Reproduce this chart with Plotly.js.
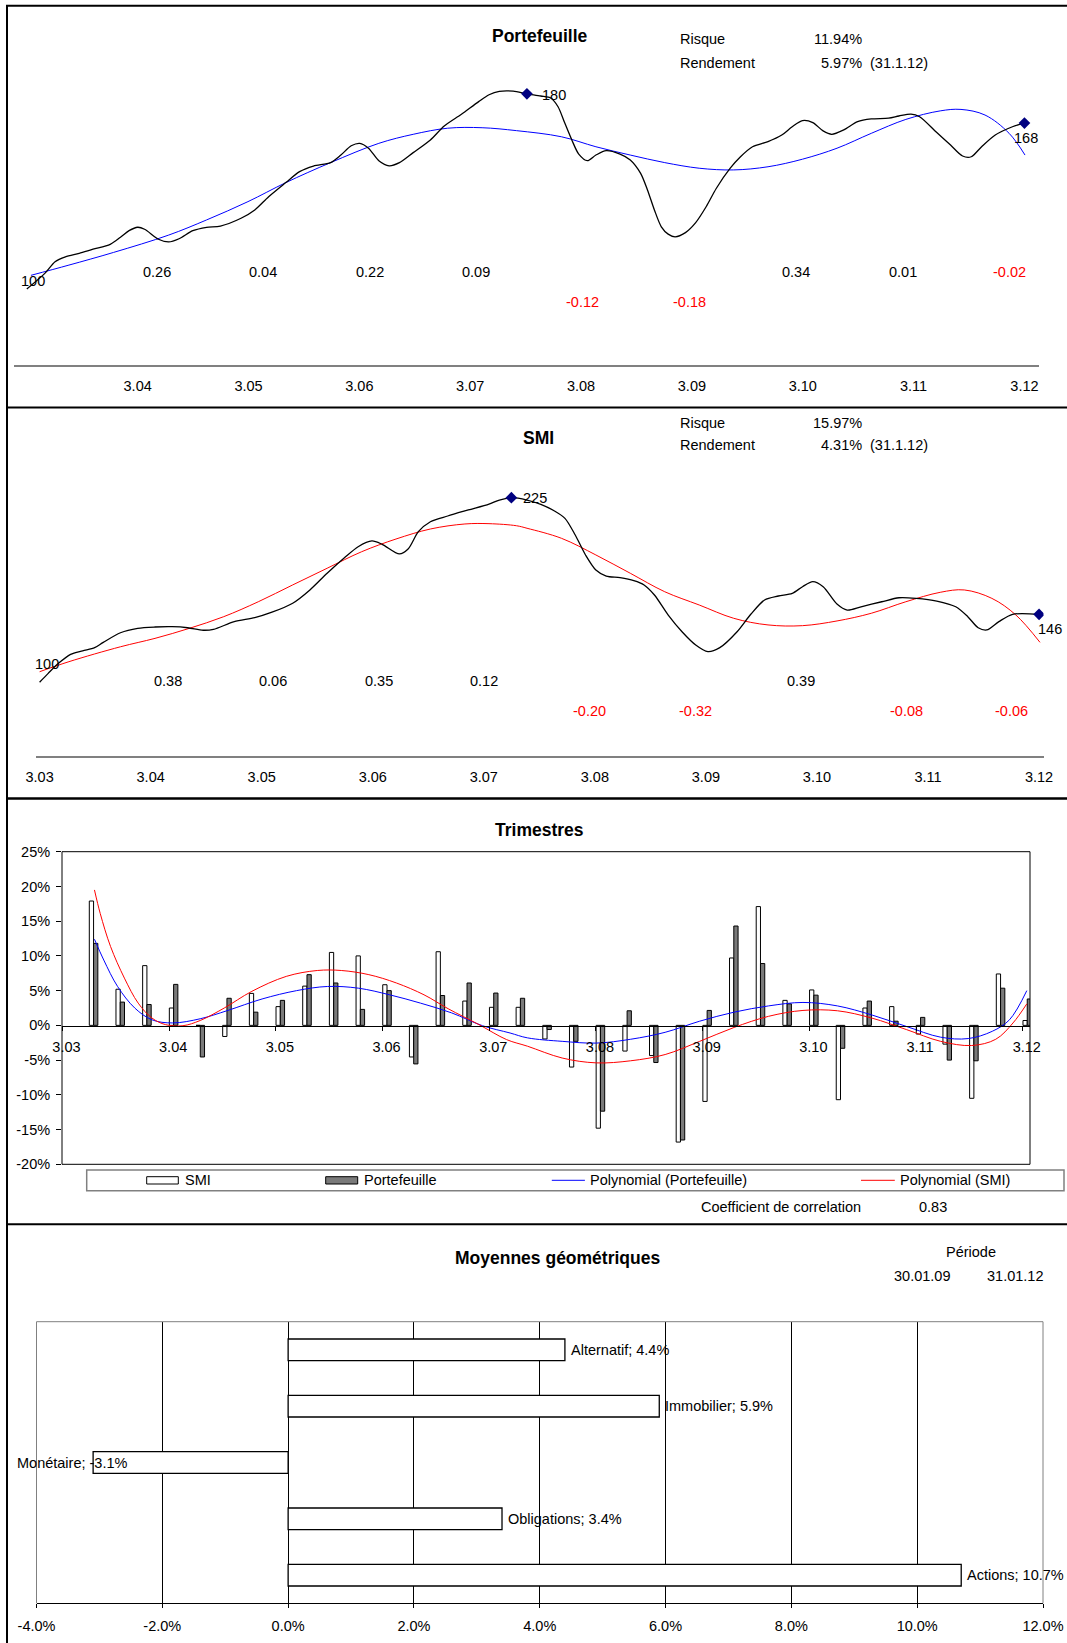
<!DOCTYPE html>
<html><head><meta charset="utf-8">
<script src="https://cdn.plot.ly/plotly-3.0.1.min.js"></script>
<style>html,body{margin:0;padding:0;background:#fff}#chart{width:1067px;height:1643px}</style>
</head><body><div id="chart"></div>
<script>
// ---------------- DATA ----------------
const yearLabels = ['3.03','3.04','3.05','3.06','3.07','3.08','3.09','3.10','3.11','3.12'];

// Portefeuille index (months since start, value)
const portMonths = [0,1.95,3.06,4.18,5.67,7.17,9.03,10.14,11.07,12.0,12.75,14.25,15.36,16.48,17.97,19.46,20.96,23.19,24.68,26.18,28.04,29.53,31.03,32.89,34.0,35.12,36.05,36.99,38.11,39.22,40.34,41.83,43.69,45.19,47.05,48.92,50.04,51.15,52.65,54.14,55.64,56.76,57.51,58.25,59.0,59.75,60.68,61.61,62.72,64.22,65.33,66.45,67.19,67.94,68.69,69.43,70.18,71.3,72.41,73.54,74.65,76.15,77.26,78.56,80.24,81.73,82.86,83.97,85.09,86.2,87.14,88.44,89.94,91.42,93.29,94.41,95.72,96.65,98.51,100.0,101.3,102.24,103.36,104.84,106.7,108];
const portValues = [100,106.4,111.2,113.2,114.6,116.3,118.3,121.2,123.9,125.3,124.5,120.4,119.3,120.6,123.9,125.3,125.8,129.0,132.4,137.8,143.6,148.1,150.4,151.8,154.9,158.7,159.7,157.7,152.6,150.5,151.8,155.9,161.1,166.8,171.6,176.8,179.6,181.0,181.1,180,179.1,178.2,174.7,167.9,161.1,155.3,152.6,154.9,156.7,155.3,152.9,147.4,140.6,132.4,125.5,122.5,121.4,123.1,127.2,133.7,141.3,149.5,154.2,158.3,160.4,163.1,166.5,169.0,168.2,164.8,163.4,165.2,168.6,169.7,170.0,170.9,171.7,170.6,164.1,159.0,154.5,154.2,158.3,163.1,166.5,168];
const portTrendMonths = [0.45,4.56,9.4,15.36,19.46,23.94,28.04,32.89,38.11,41.83,45.56,49.29,53.01,57.87,61.61,65.33,69.06,72.79,76.51,80.24,83.97,87.71,91.42,95.16,98.88,101.13,103.73,106.34,108.06];
const portTrendValues = [105.6,109.8,115.0,122.1,128.3,135.8,143.6,151.8,159.7,163.4,165.9,166.1,164.9,162.4,158.3,154.9,151.8,149.5,148.8,150.1,153.2,157.7,163.8,169.5,173.0,173.6,171.3,163.8,154.9];
const portHighlights = [180, 168];
const portReturns = [0.26,0.04,0.22,0.09,-0.12,-0.18,0.34,0.01,-0.02];
const portRisk = '11.94%', portRend = '5.97%', rendDate = '(31.1.12)';

// SMI index
const smiMonths = [0,0.93,2.04,3.35,4.65,5.95,6.88,8.74,10.6,12.47,14.33,16.0,17.68,18.79,21.03,23.25,25.11,27.35,29.21,31.07,32.94,34.42,35.91,37.02,38.88,39.82,40.93,42.23,44.1,46.33,48.56,49.68,50.98,52.67,54.16,55.64,56.77,57.88,58.99,60.11,61.23,62.72,64.21,65.32,66.44,67.93,69.42,70.9,72.21,73.5,75.37,76.85,78.34,79.83,81.33,82.44,83.55,84.67,86.16,87.27,88.76,91.0,92.86,94.72,96.95,99.0,100.3,101.42,102.35,103.66,105.14,108];
const smiValues = [100,106.0,112.8,118.9,121.3,123.4,127.0,133.5,136.5,137.4,137.6,136.9,135.2,135.8,141.0,143.7,147.4,153.5,162.5,173.8,184.3,191.8,195.7,193.4,186.9,190.2,202.0,208.7,212.6,216.7,220.7,223.4,225,223.4,220.5,216.0,211.0,199.7,186.2,176.0,171.9,170.8,168.8,165.9,159.1,145.5,134.2,125.2,120.7,123.4,134.2,146.0,155.7,158.4,160.2,164.7,168.1,164.7,153.0,148.9,151.1,154.5,157.2,156.8,155.0,151.1,144.4,136.9,135.4,141.0,146.0,146];
const smiTrendMonths = [0,3.17,8.74,12.47,16.19,19.9,23.63,27.35,31.07,34.8,38.51,42.23,45.96,48.56,51.53,52.67,56.39,60.11,63.83,67.55,71.28,75.0,78.71,82.44,86.17,89.87,93.6,97.32,99.92,102.9,105.5,108.1];
const smiTrendValues = [107.1,113.9,124.0,129.7,136.5,144.4,154.5,165.9,177.2,188.4,197.0,203.8,207.2,207.4,206.0,204.3,197.5,186.2,173.8,161.3,152.3,143.3,138.8,138.3,141.5,146.7,154.5,160.9,162.5,156.8,145.5,127.0];
const smiHighlights = [225, 146];
const smiReturns = [0.38,0.06,0.35,0.12,-0.20,-0.32,0.39,-0.08,-0.06];
const smiRisk = '15.97%', smiRend = '4.31%';

// Quarterly returns (%)
const smiQuarterly = [17.9,5.2,8.6,2.5,0.0,-1.6,4.6,2.7,5.65,10.5,10.0,5.85,-4.55,10.6,3.5,2.6,2.6,-1.96,-6.0,-14.8,-3.7,-4.35,-16.8,-10.95,9.7,17.1,3.6,5.1,-10.7,2.5,2.7,-1.25,-2.7,-10.5,7.4,0.7];
const portQuarterly = [11.8,3.35,3.0,5.9,-4.55,3.9,1.9,3.6,7.3,6.1,2.3,5.0,-5.55,4.3,6.1,4.65,3.9,-0.6,-2.3,-12.35,2.1,-5.35,-16.5,2.15,14.3,8.9,3.1,4.35,-3.3,3.5,0.6,1.15,-5.0,-5.1,5.35,3.8];
const qSmiTrendMonths = [3.6,4.25,5.41,6.97,8.52,10.07,11.61,13.55,15.49,18.2,21.3,25.17,28.66,31.36,34.46,37.56,40.66,43.37,46.85,49.95,52.3,56.2,60.04,63.9,67.78,71.66,75.53,79.4,83.28,87.16,91.02,94.9,98.76,102.25,104.96,106.9,108.45];
const qSmiTrendValues = [19.5,16.1,11.35,6.8,3.2,1.05,0.1,-0.05,0.7,2.5,4.9,7.05,7.9,7.9,7.3,6.1,4.4,2.4,0.1,-2.05,-3.0,-4.7,-5.4,-5.1,-4.2,-2.3,-0.3,1.3,2.15,2.1,1.05,-0.6,-2.3,-2.9,-2.0,0.35,3.1];
const qPortTrendMonths = [3.6,4.65,6.2,8.13,10.07,12.4,15.49,18.6,22.45,26.33,29.81,33.3,36.79,40.27,43.76,47.24,50.34,52.3,56.2,60.04,63.9,67.78,71.66,75.53,79.4,83.28,87.16,91.02,94.9,98.76,101.86,104.57,106.5,108.45];
const qPortTrendValues = [12.4,9.4,5.6,2.5,0.8,0.35,0.95,2.15,3.8,5.0,5.6,5.35,4.4,3.2,1.8,-0.05,-1.1,-1.8,-2.3,-2.55,-2.0,-1.0,0.6,1.9,2.8,3.3,2.8,1.5,-0.15,-1.7,-1.9,-0.85,0.8,5.0];
const correlation = 0.83;
const quarterTicks = [-20,-15,-10,-5,0,5,10,15,20,25];

// Geometric means
const assetClasses = ['Alternatif','Immobilier','Monétaire','Obligations','Actions'];
const geoMeans = [4.4, 5.9, -3.1, 3.4, 10.7];
const geoTicks = [-4,-2,0,2,4,6,8,10,12];
const periodStart = '30.01.09', periodEnd = '31.01.12';

// ---------------- LAYOUT HELPERS ----------------
const W = 1067, H = 1643;
const FX = p => p / W, FY = p => 1 - p / H;
const FONT = 'Liberation Sans, Arial, Helvetica, sans-serif';
const FS = 14.5;
const yearTickMonths = yearLabels.map((_, i) => 12 * i);
const quarterPos = smiQuarterly.map((_, i) => 3.5 + 3 * i);

function txt(text, x, y, o) {
  o = o || {};
  return {text: text, xref: 'paper', yref: 'paper', x: FX(x), y: FY(y),
    xanchor: o.xa || 'center', yanchor: 'middle', showarrow: false,
    font: {family: FONT, size: o.size || FS, color: o.color || '#000', weight: o.bold ? 'bold' : 'normal'}};
}
function dataLbl(text, xr, yr, x, y, xs, ys) {
  return {text: text, xref: xr, yref: yr, x: x, y: y, xshift: xs, yshift: ys,
    xanchor: 'center', yanchor: 'middle', showarrow: false, font: {family: FONT, size: FS, color: '#000'}};
}

const traces = [];
// Panel 1
traces.push({x: portTrendMonths, y: portTrendValues, xaxis: 'x', yaxis: 'y', mode: 'lines',
  line: {color: '#0000ff', width: 1, shape: 'spline'}, hoverinfo: 'skip'});
traces.push({x: portMonths, y: portValues, xaxis: 'x', yaxis: 'y', mode: 'lines',
  line: {color: '#000', width: 1.3, shape: 'spline', smoothing: 0.8}, hoverinfo: 'skip'});
const pIdx = portHighlights.map(v => portValues.lastIndexOf(v));
traces.push({x: pIdx.map(i => portMonths[i]), y: pIdx.map(i => portValues[i]), xaxis: 'x', yaxis: 'y',
  mode: 'markers', marker: {symbol: 'diamond', size: 9, color: '#000080'}, hoverinfo: 'skip'});
// Panel 2
traces.push({x: smiTrendMonths, y: smiTrendValues, xaxis: 'x2', yaxis: 'y2', mode: 'lines',
  line: {color: '#ff0000', width: 1, shape: 'spline'}, hoverinfo: 'skip'});
traces.push({x: smiMonths, y: smiValues, xaxis: 'x2', yaxis: 'y2', mode: 'lines',
  line: {color: '#000', width: 1.3, shape: 'spline', smoothing: 0.8}, hoverinfo: 'skip'});
const sIdx = smiHighlights.map(v => smiValues.lastIndexOf(v));
traces.push({x: sIdx.map(i => smiMonths[i]), y: sIdx.map(i => smiValues[i]), xaxis: 'x2', yaxis: 'y2',
  mode: 'markers', marker: {symbol: 'diamond', size: 9, color: '#000080'}, hoverinfo: 'skip'});
// Panel 3
traces.push({type: 'bar', x: quarterPos, y: smiQuarterly, xaxis: 'x3', yaxis: 'y3', width: 0.48, offset: -0.48,
  marker: {color: '#ffffff', line: {color: '#000', width: 1}}, hoverinfo: 'skip'});
traces.push({type: 'bar', x: quarterPos, y: portQuarterly, xaxis: 'x3', yaxis: 'y3', width: 0.48, offset: 0,
  marker: {color: '#7a7a7a', line: {color: '#000', width: 1}}, hoverinfo: 'skip'});
traces.push({x: qPortTrendMonths, y: qPortTrendValues, xaxis: 'x3', yaxis: 'y3', mode: 'lines',
  line: {color: '#0000ff', width: 1, shape: 'spline'}, hoverinfo: 'skip'});
traces.push({x: qSmiTrendMonths, y: qSmiTrendValues, xaxis: 'x3', yaxis: 'y3', mode: 'lines',
  line: {color: '#ff0000', width: 1, shape: 'spline'}, hoverinfo: 'skip'});
// Panel 4
traces.push({type: 'bar', orientation: 'h', x: geoMeans, y: assetClasses, xaxis: 'x4', yaxis: 'y4', width: 0.385,
  marker: {color: '#ffffff', line: {color: '#000', width: 1.3}}, hoverinfo: 'skip'});

const tf = {family: FONT, size: FS, color: '#000'};
const layout = {
  width: W, height: H, margin: {l: 0, r: 0, t: 0, b: 0}, showlegend: false,
  paper_bgcolor: '#fff', plot_bgcolor: 'rgba(0,0,0,0)', barmode: 'overlay',
  font: {family: FONT, size: FS, color: '#000'},
  xaxis: {domain: [FX(14), FX(1039)], range: [-1.386, 109.575], anchor: 'y', showline: true, linecolor: '#808080', linewidth: 2,
    showgrid: false, zeroline: false, ticks: '', tickvals: yearTickMonths.slice(1), ticktext: yearLabels.slice(1),
    tickfont: tf, ticklabelstandoff: 7},
  yaxis: {domain: [FY(365), FY(30)], range: [68.85, 206.15], visible: false},
  xaxis2: {domain: [FX(35.5), FX(1043.5)], range: [-0.443, 108.48], anchor: 'y2', showline: true, linecolor: '#808080', linewidth: 2,
    showgrid: false, zeroline: false, ticks: '', tickvals: yearTickMonths, ticktext: yearLabels,
    tickfont: tf, ticklabelstandoff: 7},
  yaxis2: {domain: [FY(755.7), FY(420)], range: [50.2, 277.64], visible: false},
  xaxis3: {domain: [FX(62), FX(1030)], range: [-0.05, 108.81], anchor: 'free', position: FY(1025.7),
    showline: true, linecolor: '#000', linewidth: 1, ticks: 'outside', ticklen: 4, tickcolor: '#000',
    showgrid: false, zeroline: false, tickvals: yearTickMonths, ticktext: yearLabels,
    tickfont: tf, ticklabelshift: 4, ticklabelstandoff: 4},
  yaxis3: {domain: [FY(1164.3), FY(851.7)], range: [-20, 25], anchor: 'x3', showline: false, showgrid: false, zeroline: false,
    ticks: 'outside', ticklen: 5, tickcolor: '#000', tickvals: quarterTicks, ticktext: quarterTicks.map(v => v + '%'),
    tickfont: tf, ticklabelstandoff: 3},
  xaxis4: {domain: [FX(36.5), FX(1043)], range: [-4, 12], anchor: 'y4', showline: true, linecolor: '#000', linewidth: 1,
    showgrid: true, gridcolor: '#000', gridwidth: 1, zeroline: false, ticks: 'outside', ticklen: 4, tickcolor: '#000',
    tickvals: geoTicks, ticktext: geoTicks.map(v => v.toFixed(1) + '%'), tickfont: tf, ticklabelstandoff: 5},
  yaxis4: {domain: [FY(1603.3), FY(1321.7)], type: 'category', categoryorder: 'array', categoryarray: assetClasses,
    range: [4.5, -0.5], showticklabels: false, showgrid: false, zeroline: false, showline: false, ticks: ''},
  shapes: [], annotations: []
};

const S = layout.shapes, A = layout.annotations;
function line(x0, y0, x1, y1, color, w) {
  S.push({type: 'line', xref: 'paper', yref: 'paper', x0: FX(x0), y0: FY(y0), x1: FX(x1), y1: FY(y1),
    line: {color: color, width: w}});
}
function rect(x0, y0, x1, y1, color, w, fill) {
  S.push({type: 'rect', xref: 'paper', yref: 'paper', x0: FX(x0), y0: FY(y0), x1: FX(x1), y1: FY(y1),
    line: {color: color, width: w}, fillcolor: fill || 'rgba(0,0,0,0)'});
}
// panel borders
line(6, 5.7, 1067, 5.7, '#000', 2);
line(7, 5, 7, 1643, '#000', 2);
line(6, 407.5, 1067, 407.5, '#000', 2);
line(6, 798.5, 1067, 798.5, '#000', 2.5);
line(6, 1224.3, 1067, 1224.3, '#000', 2);
// trimestres frame
rect(62, 851.7, 1030, 1164.3, '#000', 1);
// moyennes frame (grey top/left/right)
line(36.5, 1321.7, 1043, 1321.7, '#808080', 1);
line(36.5, 1321.7, 36.5, 1603.3, '#808080', 1);
line(1043, 1321.7, 1043, 1603.3, '#808080', 1);
// trimestres legend
rect(86.7, 1170, 1064, 1190.7, '#808080', 1.5);
rect(146.7, 1176.7, 178.3, 1184, '#000', 1, '#ffffff');
rect(325.7, 1176.7, 357.7, 1184, '#000', 1, '#7a7a7a');
line(551.8, 1180.3, 584.9, 1180.3, '#0000ff', 1);
line(861, 1180.3, 894.8, 1180.3, '#ff0000', 1);
A.push(txt('SMI', 183, 1180.3, {xa: 'left'}));
A.push(txt('Portefeuille', 361.5, 1180.3, {xa: 'left'}));
A.push(txt('Polynomial (Portefeuille)', 588, 1180.3, {xa: 'left'}));
A.push(txt('Polynomial (SMI)', 898, 1180.3, {xa: 'left'}));

// titles
A.push(txt('Portefeuille', 540, 36, {bold: true, size: 17.5}));
A.push(txt('SMI', 538.5, 438.3, {bold: true, size: 17.5}));
A.push(txt('Trimestres', 539.8, 830, {bold: true, size: 17.5}));
A.push(txt('Moyennes géométriques', 557.8, 1257.7, {bold: true, size: 17.5}));

// risk / return blocks
A.push(txt('Risque', 678, 39.3, {xa: 'left'}));
A.push(txt(portRisk, 864, 39.3, {xa: 'right'}));
A.push(txt('Rendement', 678, 63.3, {xa: 'left'}));
A.push(txt(portRend, 864, 63.3, {xa: 'right'}));
A.push(txt(rendDate, 868, 63.3, {xa: 'left'}));
A.push(txt('Risque', 678, 423.3, {xa: 'left'}));
A.push(txt(smiRisk, 864, 423.3, {xa: 'right'}));
A.push(txt('Rendement', 678, 445, {xa: 'left'}));
A.push(txt(smiRend, 864, 445, {xa: 'right'}));
A.push(txt(rendDate, 868, 445, {xa: 'left'}));

// annual returns (clear losses drawn on a lower row, in red)
const lowRow = r => r < -0.03;
portReturns.forEach((r, i) => A.push(txt(r.toFixed(2), 156.7 + 106.55 * i, lowRow(r) ? 302 : 272.3, {color: r < 0 ? '#ff0000' : '#000'})));
smiReturns.forEach((r, i) => A.push(txt(r.toFixed(2), 167.7 + 105.5 * i, lowRow(r) ? 711 : 681, {color: r < 0 ? '#ff0000' : '#000'})));

// data labels
A.push(dataLbl(String(portValues[0]), 'x', 'y', portMonths[0], portValues[0], 6, 8));
A.push(dataLbl(String(portHighlights[0]), 'x', 'y', portMonths[pIdx[0]], portValues[pIdx[0]], 27, -1.5));
A.push(dataLbl(String(portHighlights[1]), 'x', 'y', portMonths[pIdx[1]], portValues[pIdx[1]], 1.5, -15));
A.push(dataLbl(String(smiValues[0]), 'x2', 'y2', smiMonths[0], smiValues[0], 7, 18));
A.push(dataLbl(String(smiHighlights[0]), 'x2', 'y2', smiMonths[sIdx[0]], smiValues[sIdx[0]], 24, 0));
A.push(dataLbl(String(smiHighlights[1]), 'x2', 'y2', smiMonths[sIdx[1]], smiValues[sIdx[1]], 10.5, -15));

// correlation
A.push(txt('Coefficient de correlation', 699, 1206.7, {xa: 'left'}));
A.push(txt(correlation.toFixed(2), 933, 1206.7));

// période
A.push(txt('Période', 971, 1251.7));
A.push(txt(periodStart, 922.3, 1275.7));
A.push(txt(periodEnd, 1015.3, 1275.7));

// bar labels
assetClasses.forEach((c, i) => {
  const v = geoMeans[i];
  A.push({text: c + '; ' + v.toFixed(1) + '%', xref: 'x4', yref: 'y4', x: v, y: c,
    xanchor: v < 0 ? 'right' : 'left', xshift: v < 0 ? 37 : 4, yanchor: 'middle', showarrow: false,
    font: {family: FONT, size: FS, color: '#000'}});
});

Plotly.newPlot('chart', traces, layout, {displayModeBar: false, staticPlot: true});
</script></body></html>
